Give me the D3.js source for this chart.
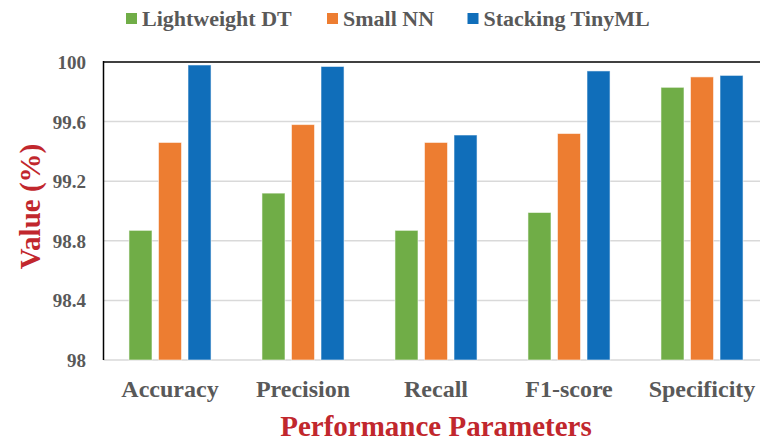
<!DOCTYPE html>
<html>
<head>
<meta charset="utf-8">
<script src="https://cdn.jsdelivr.net/npm/d3@7"></script>
<style>
  html, body { margin: 0; padding: 0; background: #fff; }
  svg { display: block; }
  text { font-family: "Liberation Serif", "Times New Roman", serif; font-weight: bold; }
</style>
</head>
<body>
<svg id="chart" width="760" height="443"></svg>
<script>
const categories = ["Accuracy", "Precision", "Recall", "F1-score", "Specificity"];
const seriesNames = ["Lightweight DT", "Small NN", "Stacking TinyML"];
const lightweightDT = [98.87, 99.12, 98.87, 98.99, 99.83];
const smallNN = [99.46, 99.58, 99.46, 99.52, 99.90];
const stackingTinyML = [99.98, 99.97, 99.51, 99.94, 99.91];
const yTicks = [98, 98.4, 98.8, 99.2, 99.6, 100];
const yTickLabels = ["98", "98.4", "98.8", "99.2", "99.6", "100"];
const colors = ["#70AD47", "#ED7D31", "#106EBA"];

const seriesValues = [lightweightDT, smallNN, stackingTinyML];
const data = categories.map((c, i) => ({
  category: c,
  values: seriesNames.map((s, j) => ({ series: s, value: seriesValues[j][i], idx: j }))
}));

const svg = d3.select("#chart");
const plotLeft = 103.5, plotRight = 768.5, plotTop = 62, plotBottom = 360;

const x0 = d3.scaleBand().domain(categories).range([plotLeft, plotRight])
  .paddingInner(0.383).paddingOuter(0.1915);
const x1 = d3.scaleBand().domain(seriesNames).range([0, x0.bandwidth()])
  .paddingInner(0.22).paddingOuter(0);
const y = d3.scaleLinear().domain([98, 100]).range([plotBottom, plotTop]);

// gridlines
svg.append("g").selectAll("line").data(yTicks).join("line")
  .attr("x1", plotLeft).attr("x2", 760)
  .attr("y1", d => y(d)).attr("y2", d => y(d))
  .attr("stroke", d => d === 100 ? "#404040" : "#d9d9d9")
  .attr("stroke-width", d => d === 100 ? 2.2 : 1.5);

// bars
const groups = svg.append("g").selectAll("g").data(data).join("g")
  .attr("transform", d => `translate(${x0(d.category)},0)`);
groups.selectAll("rect").data(d => d.values).join("rect")
  .attr("x", d => x1(d.series))
  .attr("width", x1.bandwidth())
  .attr("y", d => y(d.value))
  .attr("height", d => y(98) - y(d.value))
  .attr("fill", d => colors[d.idx])
  .attr("stroke", "#ffffff")
  .attr("stroke-opacity", 0.55)
  .attr("stroke-width", 1);

// left axis line
svg.append("line")
  .attr("x1", plotLeft).attr("x2", plotLeft)
  .attr("y1", y(100) - 1).attr("y2", y(98))
  .attr("stroke", "#000").attr("stroke-width", 1.5);

// y tick labels
svg.append("g").selectAll("text").data(yTicks).join("text")
  .attr("x", 86)
  .attr("y", d => y(d) + 7)
  .attr("text-anchor", "end")
  .attr("font-size", 19)
  .attr("fill", "#595959")
  .text((d, i) => yTickLabels[i]);

// x category labels
svg.append("g").selectAll("text").data(categories).join("text")
  .attr("x", d => x0(d) + x0.bandwidth() / 2)
  .attr("y", 397)
  .attr("text-anchor", "middle")
  .attr("font-size", 24)
  .attr("fill", "#595959")
  .text(d => d);

// axis titles
svg.append("text")
  .attr("x", 436).attr("y", 436)
  .attr("text-anchor", "middle")
  .attr("font-size", 29)
  .attr("fill", "#C1272D")
  .text("Performance Parameters");

svg.append("text")
  .attr("transform", "translate(40,206.5) rotate(-90)")
  .attr("text-anchor", "middle")
  .attr("font-size", 29)
  .attr("fill", "#C1272D")
  .text("Value (%)");

// legend
const legendX = [126, 327, 467.5];
const legend = svg.append("g").selectAll("g").data(seriesNames).join("g")
  .attr("transform", (d, i) => `translate(${legendX[i]},0)`);
legend.append("rect")
  .attr("x", 0).attr("y", 13).attr("width", 11).attr("height", 11)
  .attr("fill", (d, i) => colors[i]);
legend.append("text")
  .attr("x", 16).attr("y", 25.5)
  .attr("font-size", 22)
  .attr("fill", "#595959")
  .text(d => d);
</script>
</body>
</html>
